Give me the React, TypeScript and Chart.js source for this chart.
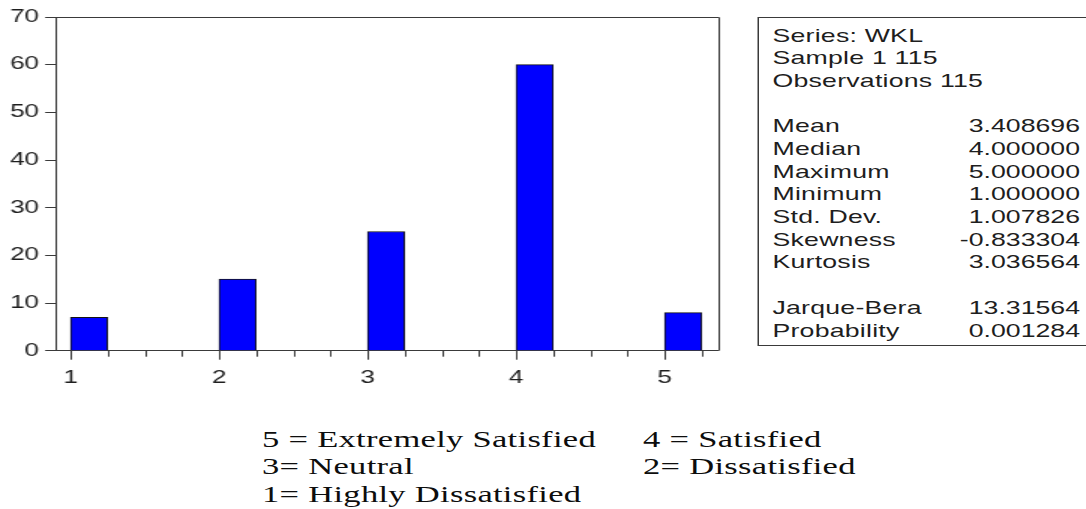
import React, { useEffect, useRef } from "react";
import { Chart, registerables } from "chart.js";

Chart.register(...registerables);

// ---- data ----
const bins = [1, 2, 3, 4, 5];
const counts = [7, 15, 25, 60, 8];
const binWidth = 0.25;
const xMin = 0.9;
const xMax = 5.36;
const yTicks = [0, 10, 20, 30, 40, 50, 60, 70];
const xTickLabels = ["1", "2", "3", "4", "5"];

const headerLines = ["Series: WKL", "Sample 1 115", "Observations 115"];
const statNames = ["Mean", "Median", "Maximum", "Minimum", "Std. Dev.", "Skewness", "Kurtosis"];
const statValues = ["3.408696", "4.000000", "5.000000", "1.000000", "1.007826", "-0.833304", "3.036564"];
const testNames = ["Jarque-Bera", "Probability"];
const testValues = ["13.31564", "0.001284"];

const legendLeft = ["5 = Extremely Satisfied", "3= Neutral", "1= Highly Dissatisfied"];
const legendRight = ["4 = Satisfied", "2= Dissatisfied"];

// ---- derived ----
const xTickValues: number[] = [];
{
  const first = Number(xTickLabels[0]);
  const last = Number(xTickLabels[xTickLabels.length - 1]) + binWidth;
  for (let v = first; v <= last + 1e-9; v += binWidth) xTickValues.push(Math.round(v * 100) / 100);
}

const axisColor = "#3a3a3a";
const textColor = "#1e1e1e";
const sansFamily = "'Liberation Sans', Arial, sans-serif";
const serifFamily = "'Liberation Serif', 'Times New Roman', serif";

const framePlugin = {
  id: "frame",
  afterDraw(chart: any) {
    const { ctx, chartArea: a, scales } = chart;
    const x = scales.x;
    ctx.save();
    ctx.strokeStyle = axisColor;
    ctx.lineWidth = 1;
    ctx.beginPath();
    const top = Math.round(a.top) + 0.5;
    const right = Math.round(a.right) + 0.5;
    ctx.moveTo(a.left, top);
    ctx.lineTo(right, top);
    ctx.lineTo(right, a.bottom);
    ctx.stroke();
    ctx.beginPath();
    xTickValues.forEach((v) => {
      const px = Math.round(x.getPixelForValue(v)) + 0.5;
      const len = Number.isInteger(v) ? 9 : 6;
      ctx.moveTo(px, a.bottom);
      ctx.lineTo(px, a.bottom + len);
    });
    ctx.stroke();
    ctx.restore();
  },
};

export default function App() {
  const canvasRef = useRef<HTMLCanvasElement | null>(null);

  useEffect(() => {
    if (!canvasRef.current) return;
    const chart = new Chart(canvasRef.current, {
      type: "bar",
      data: {
        datasets: [
          {
            data: bins.map((b, i) => ({ x: b + binWidth / 2, y: counts[i] })),
            backgroundColor: "#0000ff",
            borderColor: "#141414",
            borderWidth: 1,
            barPercentage: 1,
            categoryPercentage: 1,
          } as any,
        ],
      },
      options: {
        animation: false,
        responsive: false,
        maintainAspectRatio: false,
        layout: { padding: { top: 17, right: 21.3, left: 0, bottom: 0 } },
        plugins: { legend: { display: false }, tooltip: { enabled: false } },
        scales: {
          x: {
            type: "linear",
            min: xMin,
            max: xMax,
            offset: false,
            afterBuildTicks: (s: any) => {
              s.ticks = xTickValues.map((v) => ({ value: v }));
            },
            afterFit: (s: any) => {
              s.height = 49.3;
            },
            grid: { display: false },
            border: { display: true, color: axisColor, width: 1 },
            ticks: {
              autoSkip: false,
              maxRotation: 0,
              minRotation: 0,
              padding: 9,
              color: textColor,
              font: { family: sansFamily, size: 17.5 },
              callback: (v: any) => {
                const s = String(v);
                return xTickLabels.includes(s) ? s : "";
              },
            },
          },
          y: {
            min: 0,
            max: 70,
            afterBuildTicks: (s: any) => {
              s.ticks = yTicks.map((v) => ({ value: v }));
            },
            afterFit: (s: any) => {
              s.width = 37.1;
            },
            grid: { drawOnChartArea: false, drawTicks: true, tickLength: 7, color: axisColor },
            border: { display: true, color: axisColor, width: 1 },
            ticks: {
              padding: 4,
              color: textColor,
              font: { family: sansFamily, size: 17.5 },
            },
          },
        },
      } as any,
      plugins: [framePlugin],
    });
    return () => chart.destroy();
  }, []);

  const row = (name: string, value: string, key: string) => (
    <div key={key} style={{ display: "flex", justifyContent: "space-between", height: 22.7 }}>
      <span style={{ letterSpacing: "0.15px" }}>{name}</span>
      <span>{value}</span>
    </div>
  );

  return (
    <div
      style={{
        position: "absolute",
        left: 0,
        top: 0,
        width: 724,
        height: 509,
        overflow: "hidden",
        background: "#ffffff",
        transform: "scaleX(1.5)",
        transformOrigin: "0 0",
      }}
    >
      <canvas
        ref={canvasRef}
        width={500}
        height={400}
        style={{ position: "absolute", left: 0, top: 0, width: 500, height: 400 }}
      />
      <div
        style={{
          position: "absolute",
          left: 505.3,
          top: 16.5,
          width: 240,
          height: 329,
          border: `1px solid ${axisColor}`,
          boxSizing: "border-box",
        }}
      />
      <div
        style={{
          position: "absolute",
          left: 515,
          top: 24.6,
          width: 205,
          fontFamily: sansFamily,
          fontSize: 17.8,
          lineHeight: "22.7px",
          color: textColor,
          whiteSpace: "nowrap",
        }}
      >
        {headerLines.map((t, i) => (
          <div key={"h" + i} style={{ height: 22.7, letterSpacing: "0.15px" }}>
            {t}
          </div>
        ))}
        <div style={{ height: 22.7 }} />
        {statNames.map((n, i) => row(n, statValues[i], "s" + i))}
        <div style={{ height: 22.7 }} />
        {testNames.map((n, i) => row(n, testValues[i], "t" + i))}
      </div>
      <div
        style={{
          position: "absolute",
          left: 174.7,
          top: 425.5,
          fontFamily: serifFamily,
          fontSize: 23,
          lineHeight: "27.5px",
          letterSpacing: "0.2px",
          color: "#0d0d0d",
          whiteSpace: "nowrap",
        }}
      >
        {legendLeft.map((t, i) => (
          <div key={"l" + i}>{t}</div>
        ))}
      </div>
      <div
        style={{
          position: "absolute",
          left: 428.7,
          top: 425.5,
          fontFamily: serifFamily,
          fontSize: 23,
          lineHeight: "27.5px",
          letterSpacing: "0.2px",
          color: "#0d0d0d",
          whiteSpace: "nowrap",
        }}
      >
        {legendRight.map((t, i) => (
          <div key={"r" + i}>{t}</div>
        ))}
      </div>
    </div>
  );
}
